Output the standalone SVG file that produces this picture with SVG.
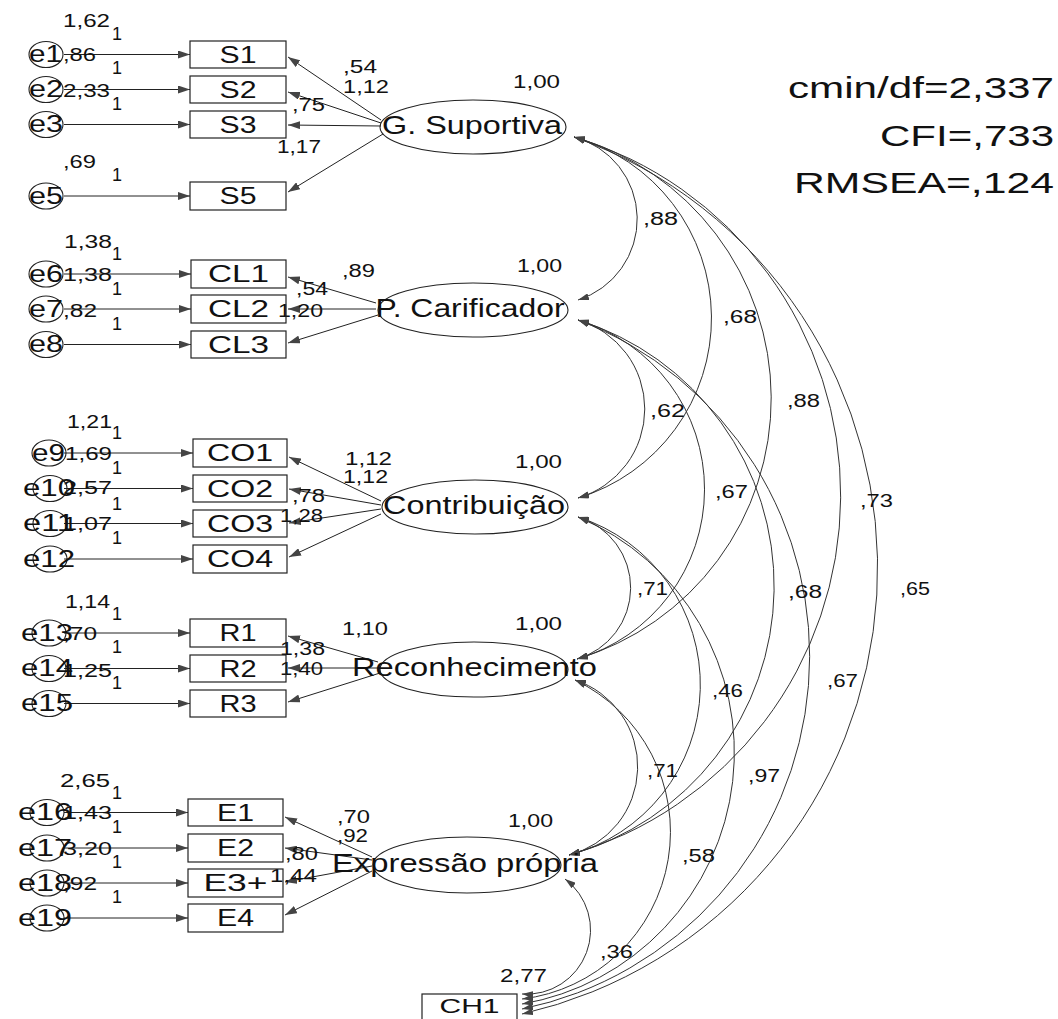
<svg xmlns="http://www.w3.org/2000/svg" width="1058" height="1019" viewBox="0 0 1058 1019">
<style>
.t{font-family:"Liberation Sans",Arial,Helvetica,sans-serif;fill:#111}
.n{font-size:18px}
.bx{font-size:24px;text-anchor:middle}
.lt{font-size:25px;text-anchor:middle}
.er{font-size:23px}
.fit{font-size:29px;text-anchor:end}
.box{fill:none;stroke:#222;stroke-width:1.2}
.el{fill:none;stroke:#222;stroke-width:1.1}
.ln{fill:none;stroke:#222;stroke-width:1;marker-end:url(#ah)}
.arc{fill:none;stroke:#333;stroke-width:1;marker-start:url(#ah2);marker-end:url(#ah2)}
</style>
<defs>
<marker id="ah" viewBox="0 0 12 8" refX="12" refY="4" markerWidth="12" markerHeight="8" orient="auto" markerUnits="userSpaceOnUse"><path d="M0,0 L12,4 L0,8 z" fill="#444"/></marker>
<marker id="ah2" viewBox="0 0 11 7" refX="11" refY="3.5" markerWidth="11" markerHeight="7" orient="auto-start-reverse" markerUnits="userSpaceOnUse"><path d="M0,0 L11,3.5 L0,7 z" fill="#444"/></marker>
</defs>
<rect width="1058" height="1019" fill="#fff"/>

<g id="connectors">
<line class="ln" x1="64" y1="54.5" x2="190" y2="54.5"/>
<line class="ln" x1="64" y1="89.5" x2="190" y2="89.5"/>
<line class="ln" x1="64" y1="124.5" x2="190" y2="124.5"/>
<line class="ln" x1="64" y1="196" x2="190" y2="196"/>
<line class="ln" x1="64" y1="274" x2="191" y2="274"/>
<line class="ln" x1="64" y1="309" x2="191" y2="309"/>
<line class="ln" x1="64" y1="344.5" x2="191" y2="344.5"/>
<line class="ln" x1="64" y1="453" x2="193" y2="453"/>
<line class="ln" x1="64" y1="488.5" x2="193" y2="488.5"/>
<line class="ln" x1="64" y1="523.5" x2="193" y2="523.5"/>
<line class="ln" x1="64" y1="559" x2="193" y2="559"/>
<line class="ln" x1="64" y1="633" x2="190" y2="633"/>
<line class="ln" x1="64" y1="668.5" x2="190" y2="668.5"/>
<line class="ln" x1="64" y1="703.5" x2="190" y2="703.5"/>
<line class="ln" x1="64" y1="812.5" x2="188" y2="812.5"/>
<line class="ln" x1="64" y1="848" x2="188" y2="848"/>
<line class="ln" x1="64" y1="883" x2="188" y2="883"/>
<line class="ln" x1="64" y1="918" x2="188" y2="918"/>
<line class="ln" x1="381" y1="120" x2="288" y2="57"/>
<line class="ln" x1="381" y1="123" x2="288" y2="92"/>
<line class="ln" x1="381" y1="126" x2="288" y2="125"/>
<line class="ln" x1="383" y1="134" x2="288" y2="192"/>
<line class="ln" x1="376" y1="303" x2="288" y2="277"/>
<line class="ln" x1="376" y1="309" x2="288" y2="309"/>
<line class="ln" x1="378" y1="315" x2="288" y2="343"/>
<line class="ln" x1="381" y1="501" x2="289" y2="457"/>
<line class="ln" x1="381" y1="505" x2="289" y2="489"/>
<line class="ln" x1="381" y1="509" x2="289" y2="523"/>
<line class="ln" x1="381" y1="514" x2="289" y2="557"/>
<line class="ln" x1="378" y1="662" x2="288" y2="636"/>
<line class="ln" x1="378" y1="668" x2="288" y2="668"/>
<line class="ln" x1="380" y1="673" x2="288" y2="702"/>
<line class="ln" x1="372" y1="857" x2="285" y2="817"/>
<line class="ln" x1="372" y1="860" x2="285" y2="848"/>
<line class="ln" x1="372" y1="866" x2="285" y2="882"/>
<line class="ln" x1="372" y1="871" x2="285" y2="915"/>
<path class="arc" d="M574,137 A84.9,84.9 0 0 1 578,300"/>
<path class="arc" d="M574,137 A188,188 0 0 1 578,498"/>
<path class="arc" d="M574,137 A271.9,271.9 0 0 1 577,659"/>
<path class="arc" d="M574,137 A374,374 0 0 1 569,855"/>
<path class="arc" d="M574,137 A457.6,457.6 0 0 1 522,1014"/>
<path class="arc" d="M578,320 A92.7,92.7 0 0 1 578,498"/>
<path class="arc" d="M578,320 A176.6,176.6 0 0 1 577,659"/>
<path class="arc" d="M578,320 A278.7,278.7 0 0 1 569,855"/>
<path class="arc" d="M578,320 A360,360 0 0 1 522,1009"/>
<path class="arc" d="M578,517 A74,74 0 0 1 577,659"/>
<path class="arc" d="M578,517 A176.1,176.1 0 0 1 569,855"/>
<path class="arc" d="M578,517 A255.3,255.3 0 0 1 522,1004"/>
<path class="arc" d="M575,680 A91.2,91.2 0 0 1 569,855"/>
<path class="arc" d="M575,680 A168.4,168.4 0 0 1 522,999"/>
<path class="arc" d="M565,879 A64,64 0 0 1 522,994"/>
</g>

<g id="labels" class="t n">
<text x="63" y="27" textLength="47" lengthAdjust="spacingAndGlyphs">1,62</text>
<text x="112" y="40">1</text>
<text x="63" y="61" textLength="33" lengthAdjust="spacingAndGlyphs">,86</text>
<text x="112" y="74">1</text>
<text x="63" y="97" textLength="47" lengthAdjust="spacingAndGlyphs">2,33</text>
<text x="112" y="110">1</text>
<text x="63" y="168" textLength="33" lengthAdjust="spacingAndGlyphs">,69</text>
<text x="112" y="181">1</text>
<text x="64" y="248" textLength="48" lengthAdjust="spacingAndGlyphs">1,38</text>
<text x="112" y="260">1</text>
<text x="63" y="281" textLength="49" lengthAdjust="spacingAndGlyphs">1,38</text>
<text x="112" y="295">1</text>
<text x="63" y="317" textLength="34" lengthAdjust="spacingAndGlyphs">,82</text>
<text x="112" y="330">1</text>
<text x="67" y="428" textLength="45" lengthAdjust="spacingAndGlyphs">1,21</text>
<text x="112" y="439">1</text>
<text x="65" y="460" textLength="47" lengthAdjust="spacingAndGlyphs">1,69</text>
<text x="112" y="474">1</text>
<text x="63" y="494" textLength="49" lengthAdjust="spacingAndGlyphs">2,57</text>
<text x="112" y="510">1</text>
<text x="63" y="530" textLength="49" lengthAdjust="spacingAndGlyphs">1,07</text>
<text x="112" y="544">1</text>
<text x="65" y="608" textLength="45" lengthAdjust="spacingAndGlyphs">1,14</text>
<text x="112" y="620">1</text>
<text x="63" y="640" textLength="34" lengthAdjust="spacingAndGlyphs">,70</text>
<text x="112" y="653">1</text>
<text x="63" y="677" textLength="49" lengthAdjust="spacingAndGlyphs">1,25</text>
<text x="112" y="689">1</text>
<text x="60" y="787" textLength="50" lengthAdjust="spacingAndGlyphs">2,65</text>
<text x="112" y="799">1</text>
<text x="63" y="819" textLength="49" lengthAdjust="spacingAndGlyphs">1,43</text>
<text x="112" y="833">1</text>
<text x="63" y="855" textLength="49" lengthAdjust="spacingAndGlyphs">3,20</text>
<text x="112" y="868">1</text>
<text x="63" y="890" textLength="34" lengthAdjust="spacingAndGlyphs">,92</text>
<text x="112" y="903">1</text>
<text x="343" y="73" textLength="34" lengthAdjust="spacingAndGlyphs">,54</text>
<text x="343" y="93" textLength="46" lengthAdjust="spacingAndGlyphs">1,12</text>
<text x="292" y="111" textLength="33" lengthAdjust="spacingAndGlyphs">,75</text>
<text x="277" y="153" textLength="44" lengthAdjust="spacingAndGlyphs">1,17</text>
<text x="513" y="88" textLength="47" lengthAdjust="spacingAndGlyphs">1,00</text>
<text x="342" y="277" textLength="33" lengthAdjust="spacingAndGlyphs">,89</text>
<text x="296" y="295" textLength="32" lengthAdjust="spacingAndGlyphs">,54</text>
<text x="278" y="317" textLength="45" lengthAdjust="spacingAndGlyphs">1,20</text>
<text x="517" y="272" textLength="45" lengthAdjust="spacingAndGlyphs">1,00</text>
<text x="345" y="465" textLength="47" lengthAdjust="spacingAndGlyphs">1,12</text>
<text x="343" y="483" textLength="45" lengthAdjust="spacingAndGlyphs">1,12</text>
<text x="292" y="502" textLength="33" lengthAdjust="spacingAndGlyphs">,78</text>
<text x="280" y="522" textLength="43" lengthAdjust="spacingAndGlyphs">1,28</text>
<text x="515" y="468" textLength="47" lengthAdjust="spacingAndGlyphs">1,00</text>
<text x="342" y="635" textLength="46" lengthAdjust="spacingAndGlyphs">1,10</text>
<text x="280" y="655" textLength="45" lengthAdjust="spacingAndGlyphs">1,38</text>
<text x="280" y="675" textLength="43" lengthAdjust="spacingAndGlyphs">1,40</text>
<text x="515" y="630" textLength="47" lengthAdjust="spacingAndGlyphs">1,00</text>
<text x="337" y="823" textLength="33" lengthAdjust="spacingAndGlyphs">,70</text>
<text x="337" y="842" textLength="31" lengthAdjust="spacingAndGlyphs">,92</text>
<text x="285" y="860" textLength="33" lengthAdjust="spacingAndGlyphs">,80</text>
<text x="270" y="882" textLength="47" lengthAdjust="spacingAndGlyphs">1,44</text>
<text x="508" y="827" textLength="45" lengthAdjust="spacingAndGlyphs">1,00</text>
<text x="500" y="982" textLength="47" lengthAdjust="spacingAndGlyphs">2,77</text>
<text x="643" y="225" textLength="35" lengthAdjust="spacingAndGlyphs">,88</text>
<text x="723" y="323" textLength="34" lengthAdjust="spacingAndGlyphs">,68</text>
<text x="787" y="407" textLength="33" lengthAdjust="spacingAndGlyphs">,88</text>
<text x="860" y="507" textLength="33" lengthAdjust="spacingAndGlyphs">,73</text>
<text x="900" y="595" textLength="30" lengthAdjust="spacingAndGlyphs">,65</text>
<text x="650" y="417" textLength="35" lengthAdjust="spacingAndGlyphs">,62</text>
<text x="715" y="498" textLength="33" lengthAdjust="spacingAndGlyphs">,67</text>
<text x="788" y="598" textLength="34" lengthAdjust="spacingAndGlyphs">,68</text>
<text x="827" y="687" textLength="31" lengthAdjust="spacingAndGlyphs">,67</text>
<text x="637" y="595" textLength="31" lengthAdjust="spacingAndGlyphs">,71</text>
<text x="712" y="697" textLength="31" lengthAdjust="spacingAndGlyphs">,46</text>
<text x="748" y="782" textLength="32" lengthAdjust="spacingAndGlyphs">,97</text>
<text x="647" y="777" textLength="31" lengthAdjust="spacingAndGlyphs">,71</text>
<text x="682" y="862" textLength="33" lengthAdjust="spacingAndGlyphs">,58</text>
<text x="600" y="958" textLength="33" lengthAdjust="spacingAndGlyphs">,36</text>
</g>

<g id="fit" class="t fit">
<text x="1054" y="98" textLength="266" lengthAdjust="spacingAndGlyphs">cmin/df=2,337</text>
<text x="1054" y="146" textLength="174" lengthAdjust="spacingAndGlyphs">CFI=,733</text>
<text x="1054" y="193" textLength="260" lengthAdjust="spacingAndGlyphs">RMSEA=,124</text>
</g>

<g id="G_Suportiva"><ellipse class="el" cx="473" cy="127" rx="93" ry="27"/><text class="t lt" x="472" y="134" textLength="180" lengthAdjust="spacingAndGlyphs">G. Suportiva</text></g>
<g id="P_Carificador"><ellipse class="el" cx="473" cy="310" rx="95" ry="27"/><text class="t lt" x="470" y="317" textLength="189" lengthAdjust="spacingAndGlyphs">P. Carificador</text></g>
<g id="Contribuicao"><ellipse class="el" cx="475" cy="507" rx="93" ry="27"/><text class="t lt" x="474" y="514" textLength="182" lengthAdjust="spacingAndGlyphs">Contribuição</text></g>
<g id="Reconhecimento"><ellipse class="el" cx="474" cy="669.5" rx="94" ry="27.5"/><text class="t lt" x="474.5" y="676" textLength="245" lengthAdjust="spacingAndGlyphs">Reconhecimento</text></g>
<g id="Expressao_propria"><ellipse class="el" cx="467" cy="865" rx="94" ry="28"/><text class="t lt" x="465" y="872" textLength="266" lengthAdjust="spacingAndGlyphs">Expressão própria</text></g>

<g id="S1"><rect class="box" x="190" y="41" width="96" height="27"/><text class="t bx" x="238" y="63" textLength="37" lengthAdjust="spacingAndGlyphs">S1</text></g>
<g id="S2"><rect class="box" x="190" y="76" width="96" height="27"/><text class="t bx" x="238" y="98" textLength="37" lengthAdjust="spacingAndGlyphs">S2</text></g>
<g id="S3"><rect class="box" x="190" y="111" width="96" height="27"/><text class="t bx" x="238" y="133" textLength="37" lengthAdjust="spacingAndGlyphs">S3</text></g>
<g id="S5"><rect class="box" x="190" y="182" width="96" height="28"/><text class="t bx" x="238" y="204" textLength="37" lengthAdjust="spacingAndGlyphs">S5</text></g>
<g id="CL1"><rect class="box" x="191" y="260" width="95" height="28"/><text class="t bx" x="238.5" y="282" textLength="61" lengthAdjust="spacingAndGlyphs">CL1</text></g>
<g id="CL2"><rect class="box" x="191" y="295" width="95" height="28"/><text class="t bx" x="238.5" y="317" textLength="61" lengthAdjust="spacingAndGlyphs">CL2</text></g>
<g id="CL3"><rect class="box" x="191" y="331" width="95" height="27"/><text class="t bx" x="238.5" y="353" textLength="61" lengthAdjust="spacingAndGlyphs">CL3</text></g>
<g id="CO1"><rect class="box" x="193" y="439" width="94" height="28"/><text class="t bx" x="240" y="461" textLength="66" lengthAdjust="spacingAndGlyphs">CO1</text></g>
<g id="CO2"><rect class="box" x="193" y="475" width="94" height="27"/><text class="t bx" x="240" y="497" textLength="66" lengthAdjust="spacingAndGlyphs">CO2</text></g>
<g id="CO3"><rect class="box" x="193" y="510" width="94" height="27"/><text class="t bx" x="240" y="532" textLength="66" lengthAdjust="spacingAndGlyphs">CO3</text></g>
<g id="CO4"><rect class="box" x="193" y="545" width="94" height="28"/><text class="t bx" x="240" y="567" textLength="66" lengthAdjust="spacingAndGlyphs">CO4</text></g>
<g id="R1"><rect class="box" x="190" y="619" width="96" height="28"/><text class="t bx" x="238" y="641" textLength="37" lengthAdjust="spacingAndGlyphs">R1</text></g>
<g id="R2"><rect class="box" x="190" y="655" width="96" height="27"/><text class="t bx" x="238" y="677" textLength="37" lengthAdjust="spacingAndGlyphs">R2</text></g>
<g id="R3"><rect class="box" x="190" y="690" width="96" height="27"/><text class="t bx" x="238" y="712" textLength="37" lengthAdjust="spacingAndGlyphs">R3</text></g>
<g id="E1"><rect class="box" x="188" y="799" width="95" height="27"/><text class="t bx" x="235.5" y="821" textLength="37" lengthAdjust="spacingAndGlyphs">E1</text></g>
<g id="E2"><rect class="box" x="188" y="834" width="95" height="28"/><text class="t bx" x="235.5" y="856" textLength="37" lengthAdjust="spacingAndGlyphs">E2</text></g>
<g id="E3plus"><rect class="box" x="188" y="869" width="95" height="28"/><text class="t bx" x="235.5" y="891" textLength="64" lengthAdjust="spacingAndGlyphs">E3+</text></g>
<g id="E4"><rect class="box" x="188" y="904" width="95" height="28"/><text class="t bx" x="235.5" y="926" textLength="37" lengthAdjust="spacingAndGlyphs">E4</text></g>
<g id="CH1"><rect class="box" x="422" y="994" width="95" height="26"/><text class="t" x="469.5" y="1013" font-size="21" text-anchor="middle" textLength="60" lengthAdjust="spacingAndGlyphs">CH1</text></g>

<g id="e1"><ellipse class="el" cx="46" cy="54.5" rx="17" ry="13"/><text class="t er" x="29" y="62" textLength="33" lengthAdjust="spacingAndGlyphs">e1</text></g>
<g id="e2"><ellipse class="el" cx="46" cy="89.5" rx="17" ry="13"/><text class="t er" x="29" y="97" textLength="34" lengthAdjust="spacingAndGlyphs">e2</text></g>
<g id="e3"><ellipse class="el" cx="46" cy="124.5" rx="17" ry="13"/><text class="t er" x="29" y="132" textLength="34" lengthAdjust="spacingAndGlyphs">e3</text></g>
<g id="e5"><ellipse class="el" cx="46" cy="196" rx="17" ry="13"/><text class="t er" x="29" y="203.5" textLength="34" lengthAdjust="spacingAndGlyphs">e5</text></g>
<g id="e6"><ellipse class="el" cx="46" cy="274" rx="17" ry="13"/><text class="t er" x="29" y="281.5" textLength="34" lengthAdjust="spacingAndGlyphs">e6</text></g>
<g id="e7"><ellipse class="el" cx="46" cy="309" rx="17" ry="13"/><text class="t er" x="29" y="316.5" textLength="34" lengthAdjust="spacingAndGlyphs">e7</text></g>
<g id="e8"><ellipse class="el" cx="46" cy="344.5" rx="17" ry="13"/><text class="t er" x="29" y="352" textLength="34" lengthAdjust="spacingAndGlyphs">e8</text></g>
<g id="e9"><ellipse class="el" cx="49" cy="453" rx="17" ry="13"/><text class="t er" x="32" y="460.5" textLength="33" lengthAdjust="spacingAndGlyphs">e9</text></g>
<g id="e10"><ellipse class="el" cx="50" cy="488.5" rx="17" ry="13"/><text class="t er" x="23" y="496" textLength="52" lengthAdjust="spacingAndGlyphs">e10</text></g>
<g id="e11"><ellipse class="el" cx="50" cy="523.5" rx="17" ry="13"/><text class="t er" x="23" y="531" textLength="52" lengthAdjust="spacingAndGlyphs">e11</text></g>
<g id="e12"><ellipse class="el" cx="50" cy="559" rx="17" ry="13"/><text class="t er" x="23" y="566.5" textLength="52" lengthAdjust="spacingAndGlyphs">e12</text></g>
<g id="e13"><ellipse class="el" cx="49" cy="633" rx="17" ry="13"/><text class="t er" x="21" y="640.5" textLength="52" lengthAdjust="spacingAndGlyphs">e13</text></g>
<g id="e14"><ellipse class="el" cx="49" cy="668.5" rx="17" ry="13"/><text class="t er" x="21" y="676" textLength="52" lengthAdjust="spacingAndGlyphs">e14</text></g>
<g id="e15"><ellipse class="el" cx="49" cy="703.5" rx="17" ry="13"/><text class="t er" x="21" y="711" textLength="52" lengthAdjust="spacingAndGlyphs">e15</text></g>
<g id="e16"><ellipse class="el" cx="47" cy="812.5" rx="17" ry="13"/><text class="t er" x="18" y="820" textLength="54" lengthAdjust="spacingAndGlyphs">e16</text></g>
<g id="e17"><ellipse class="el" cx="47" cy="848" rx="17" ry="13"/><text class="t er" x="18" y="855.5" textLength="54" lengthAdjust="spacingAndGlyphs">e17</text></g>
<g id="e18"><ellipse class="el" cx="47" cy="883" rx="17" ry="13"/><text class="t er" x="18" y="890.5" textLength="54" lengthAdjust="spacingAndGlyphs">e18</text></g>
<g id="e19"><ellipse class="el" cx="47" cy="918" rx="17" ry="13"/><text class="t er" x="18" y="925.5" textLength="54" lengthAdjust="spacingAndGlyphs">e19</text></g>
</svg>
